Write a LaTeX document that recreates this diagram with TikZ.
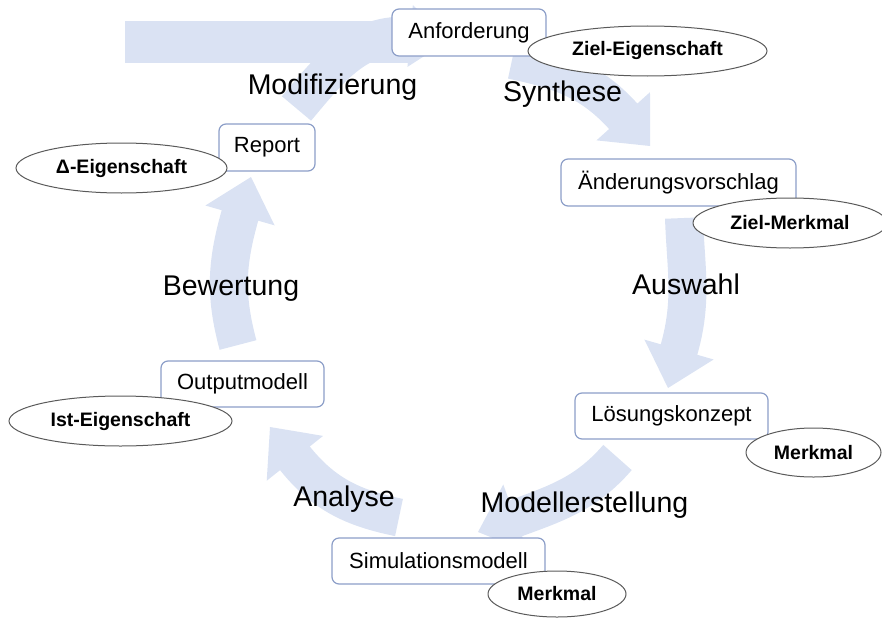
\documentclass[tikz,border=0pt]{standalone}
\usepackage{fontspec}
\setmainfont{Liberation Sans}
\usetikzlibrary{calc,shapes.geometric}
\definecolor{arrowblue}{RGB}{218,226,243}
\definecolor{boxborder}{RGB}{140,158,200}
\definecolor{ellborder}{RGB}{90,90,90}
\tikzset{
  procbox/.style={draw=boxborder, line width=1.2pt, fill=white, rounded corners=7pt, inner sep=0pt, font=\fontsize{22}{26}\selectfont},
  propell/.style={ellipse, draw=ellborder, line width=1pt, fill=white, inner sep=0pt, font=\fontsize{19.5}{23}\bfseries\selectfont},
  steplabel/.style={font=\fontsize{28.5}{34}\selectfont, anchor=base, inner sep=0pt},
  shaft/.style={draw=arrowblue, line width=38pt},
  head/.style={fill=arrowblue},
}
% #1 start, #2 out angle, #3 tip, #4 direction, #5 in angle, #6 half head width
\newcommand\cyclearrow[6]{%
  \draw[shaft] (#1) to[out=#2,in=#5] ($(#3)+({#4+180}:39)$);
  \fill[head] (#3) -- ($(#3)+({#4+180}:40)+({#4+90}:#6)$) -- ($(#3)+({#4+180}:40)+({#4-90}:#6)$) -- cycle;
}
\begin{document}
\begin{tikzpicture}[x=1pt,y=1pt]
\useasboundingbox (0,0) rectangle (882,-618);
% arrow end points
\coordinate (sSyn) at (512,-60);      \coordinate (tSyn) at (650,-146);
\coordinate (sAus) at (684,-218);     \coordinate (tAus) at (668,-388);
\coordinate (sMod) at (617.5,-457.5); \coordinate (tMod) at (478,-532);
\coordinate (sAna) at (399,-517.5);   \coordinate (tAna) at (270,-427);
\coordinate (sBew) at (238,-345);     \coordinate (tBew) at (251,-177);
\coordinate (sMfz) at (296.5,-108.5); \coordinate (tMfz) at (450,-39.5);
% broad cycle arrows
\fill[head] (125,-21) rectangle (412,-63);
\cyclearrow{sSyn}{-12}{tSyn}{-48}{132}{36}
\cyclearrow{sAus}{-88}{tAus}{-106}{74}{36}
\cyclearrow{sMod}{-131}{tMod}{-160}{20}{36}
\cyclearrow{sAna}{168.4}{tAna}{128.5}{-51.5}{36}
\cyclearrow{sBew}{105}{tBew}{74}{254}{36}
\cyclearrow{sMfz}{50}{tMfz}{-5}{175}{31}
% step labels
\node[steplabel] (lMfz) at (332.5,-94) {Modifizierung};
\node[steplabel] (lSyn) at (562.5,-101) {Synthese};
\node[steplabel] (lAus) at (686,-294) {Auswahl};
\node[steplabel] (lMod) at (584.5,-512) {Modellerstellung};
\node[steplabel] (lAna) at (344,-506) {Analyse};
\node[steplabel] (lBew) at (231,-295) {Bewertung};
% process boxes
\node[procbox, minimum width=154pt, minimum height=47pt] (anf) at (469,-32.5) {Anforderung};
\node[procbox, minimum width=235pt, minimum height=47pt] (aend) at (678.5,-182.5) {Änderungsvorschlag};
\node[procbox, minimum width=193pt, minimum height=46pt] (loes) at (671.5,-416) {Lösungskonzept};
\node[procbox, minimum width=213pt, minimum height=46pt] (sim) at (438.5,-561) {Simulationsmodell};
\node[procbox, minimum width=163pt, minimum height=46pt] (out) at (242.5,-384) {Outputmodell};
\node[procbox, minimum width=96pt, minimum height=47pt] (rep) at (267,-147.5) {Report};
% property ellipses
\node[propell, minimum width=239pt, minimum height=50pt] (zeig) at (647.5,-51) {Ziel-Eigenschaft};
\node[propell, minimum width=194pt, minimum height=50pt] (zmerk) at (790,-223) {Ziel-Merkmal};
\node[propell, minimum width=135pt, minimum height=49pt] (merk1) at (813.5,-452.5) {Merkmal};
\node[propell, minimum width=138pt, minimum height=46pt] (merk2) at (557,-594) {Merkmal};
\node[propell, minimum width=223pt, minimum height=50pt] (ist) at (120.5,-421) {Ist-Eigenschaft};
\node[propell, minimum width=211pt, minimum height=50pt] (delta) at (121.5,-168) {Δ-Eigenschaft};
\end{tikzpicture}
\end{document}
